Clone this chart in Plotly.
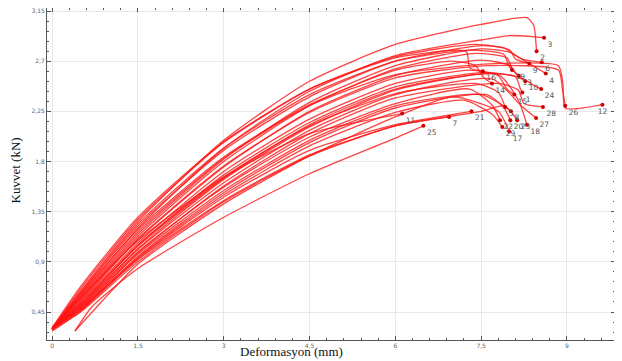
import plotly.graph_objects as go

# ---- data ----
curve_labels = ["2", "3", "6", "9", "4", "19", "13", "16", "10", "24",
                "14", "15", "1", "28", "12", "26", "5", "21", "11", "7",
                "25", "8", "22", "20", "23", "27", "18", "29", "17"]

curve_x = [
    [0, 0.5, 1.5, 3, 4.5, 6, 7.5, 8.3, 8.42, 8.46, 8.47],            # 2
    [0, 0.5, 1.5, 3, 4.5, 6, 7.5, 8.0, 8.4, 8.6],                     # 3
    [0, 0.5, 1.5, 3, 4.5, 6, 7.5, 7.9, 8.2, 8.56],                    # 6
    [0, 0.5, 1.5, 3, 4.5, 6, 7.4, 8.0, 8.1, 8.34],                    # 9
    [0, 0.5, 1.5, 3, 4.5, 6, 7.5, 8.0, 8.4, 8.63],                    # 4
    [0, 0.5, 1.5, 3, 4.5, 6, 7.3, 7.9, 7.98, 8.04],                   # 19
    [0, 0.5, 1.5, 3, 4.5, 6, 7.4, 7.95, 8.05, 8.16],                  # 13
    [0, 0.5, 1.5, 3, 4.5, 6, 7.1, 7.25, 7.3, 7.53],                   # 16
    [0, 0.5, 1.5, 3, 4.5, 6, 7.5, 8.0, 8.15, 8.27],                   # 10
    [0, 0.5, 1.5, 3, 4.5, 6, 7.6, 8.2, 8.4, 8.55],                    # 24
    [0, 0.5, 1.5, 3, 4.5, 6, 7.0, 7.4, 7.55, 7.69],                   # 14
    [0, 0.5, 1.5, 3, 4.5, 6, 7.3, 7.8, 7.95, 8.08],                   # 15
    [0, 0.5, 1.5, 3, 4.5, 6, 7.6, 8.1, 8.18, 8.22],                   # 1
    [0, 0.5, 1.5, 3, 4.5, 6, 7.8, 8.15, 8.25, 8.58],                  # 28
    [0, 0.5, 1.5, 3, 4.5, 6, 7.8, 8.85, 8.93, 8.97, 9.62],            # 12
    [0, 0.5, 1.5, 3, 4.5, 6, 7.6, 8.85, 8.92, 8.97],                  # 26
    [0, 0.5, 1.5, 3, 4.5, 6, 7.4, 7.8, 7.92],                         # 5
    [0, 0.5, 1.5, 3, 4.5, 6, 7.33],                                   # 21
    [0, 0.5, 1.5, 3, 4.5, 6.12],                                      # 11
    [0, 0.5, 1.5, 3, 4.5, 6, 6.94],                                   # 7
    [0.4, 0.7, 1.5, 3, 4.5, 6, 6.49],                                 # 25
    [0, 0.5, 1.5, 3, 4.5, 6, 7.5, 7.9, 8.02],                         # 8
    [0, 0.5, 1.5, 3, 4.5, 6, 7.3, 7.7, 7.83],                         # 22
    [0, 0.5, 1.5, 3, 4.5, 6, 7.6, 7.9, 8.01],                         # 20
    [0, 0.5, 1.5, 3, 4.5, 6, 7.5, 8.0, 8.13],                         # 23
    [0, 0.5, 1.5, 3, 4.5, 6, 7.7, 8.2, 8.46],                         # 27
    [0, 0.5, 1.5, 3, 4.5, 6, 7.8, 8.15, 8.30],                        # 18
    [0, 0.5, 1.5, 3, 4.5, 6, 7.2, 7.7, 7.87],                         # 29
    [0.4, 0.7, 1.5, 3, 4.5, 6, 7.0, 7.8, 7.99],                       # 17
]

curve_y = [
    [0.30, 0.64, 1.26, 1.99, 2.52, 2.85, 3.03, 3.09, 3.02, 2.85, 2.79],  # 2
    [0.30, 0.60, 1.20, 1.92, 2.43, 2.75, 2.89, 2.93, 2.92, 2.91],        # 3
    [0.29, 0.62, 1.22, 1.90, 2.38, 2.70, 2.84, 2.82, 2.72, 2.69],        # 6
    [0.30, 0.66, 1.28, 1.97, 2.45, 2.74, 2.85, 2.80, 2.72, 2.68],        # 9
    [0.31, 0.58, 1.15, 1.82, 2.33, 2.66, 2.81, 2.78, 2.66, 2.59],        # 4
    [0.30, 0.63, 1.24, 1.92, 2.40, 2.70, 2.80, 2.76, 2.66, 2.62],        # 19
    [0.30, 0.57, 1.13, 1.80, 2.30, 2.63, 2.77, 2.73, 2.62, 2.57],        # 13
    [0.31, 0.68, 1.30, 1.98, 2.45, 2.73, 2.80, 2.78, 2.64, 2.61],        # 16
    [0.29, 0.55, 1.10, 1.75, 2.25, 2.57, 2.71, 2.66, 2.56, 2.52],        # 10
    [0.30, 0.52, 1.05, 1.68, 2.15, 2.47, 2.60, 2.55, 2.49, 2.45],        # 24
    [0.30, 0.61, 1.19, 1.84, 2.31, 2.62, 2.70, 2.66, 2.55, 2.50],        # 14
    [0.29, 0.54, 1.07, 1.71, 2.18, 2.50, 2.62, 2.57, 2.45, 2.40],        # 15
    [0.31, 0.50, 1.02, 1.64, 2.11, 2.44, 2.59, 2.56, 2.46, 2.42],        # 1
    [0.30, 0.48, 0.98, 1.58, 2.05, 2.37, 2.50, 2.44, 2.32, 2.29],        # 28
    [0.30, 0.59, 1.17, 1.83, 2.30, 2.58, 2.68, 2.66, 2.50, 2.28, 2.31],  # 12
    [0.30, 0.56, 1.11, 1.76, 2.24, 2.55, 2.66, 2.62, 2.45, 2.30],        # 26
    [0.31, 0.53, 1.05, 1.66, 2.12, 2.41, 2.50, 2.42, 2.29],              # 5
    [0.28, 0.46, 0.93, 1.48, 1.90, 2.13, 2.25],                          # 21
    [0.30, 0.58, 1.09, 1.66, 2.05, 2.23],                                # 11
    [0.30, 0.47, 0.92, 1.45, 1.86, 2.12, 2.20],                          # 7
    [0.28, 0.50, 0.84, 1.30, 1.69, 2.01, 2.12],                          # 25
    [0.29, 0.45, 0.90, 1.44, 1.85, 2.12, 2.25, 2.30, 2.25],              # 8
    [0.30, 0.50, 0.99, 1.57, 2.02, 2.32, 2.45, 2.30, 2.17],              # 22
    [0.30, 0.47, 0.95, 1.52, 1.97, 2.28, 2.40, 2.28, 2.17],              # 20
    [0.30, 0.49, 0.97, 1.54, 1.99, 2.30, 2.40, 2.26, 2.17],              # 23
    [0.29, 0.51, 1.01, 1.61, 2.08, 2.40, 2.54, 2.30, 2.19],              # 27
    [0.31, 0.52, 1.04, 1.65, 2.13, 2.45, 2.58, 2.35, 2.13],              # 18
    [0.30, 0.48, 0.94, 1.50, 1.94, 2.24, 2.35, 2.22, 2.11],              # 29
    [0.28, 0.45, 0.88, 1.42, 1.85, 2.20, 2.38, 2.25, 2.07],              # 17
]

x_tickvals = [0, 1.5, 3, 4.5, 6, 7.5, 9]
x_ticktext = ["0", "1,5", "3", "4,5", "6", "7,5", "9"]
y_tickvals = [0.45, 0.9, 1.35, 1.8, 2.25, 2.7, 3.15]
y_ticktext = ["0,45", "0,9", "1,35", "1,8", "2,25", "2,7", "3,15"]

# ---- figure ----
fig = go.Figure()
for xs, ys in zip(curve_x, curve_y):
    fig.add_trace(go.Scatter(
        x=xs, y=ys, mode="lines",
        line=dict(color="rgba(255,20,20,0.8)", width=1.3,
                  shape="spline", smoothing=0.6),
        hoverinfo="skip", showlegend=False))

end_x = [xs[-1] for xs in curve_x]
end_y = [ys[-1] for ys in curve_y]
label_pos = ["bottom center" if lab == "12" else "bottom right"
             for lab in curve_labels]
fig.add_trace(go.Scatter(
    x=end_x, y=end_y, mode="markers+text", cliponaxis=False,
    marker=dict(color="#d00000", size=4),
    text=curve_labels, textposition=label_pos,
    textfont=dict(family="DejaVu Sans", size=7.5, color="#555555"),
    showlegend=False, hoverinfo="skip"))

axis_common = dict(
    showline=True, linecolor="#555555", linewidth=1, mirror="ticks",
    ticks="inside", ticklen=4, tickcolor="#555555",
    showgrid=True, gridcolor="#e8e8e8", gridwidth=1, zeroline=False,
    ticklabeloverflow="allow",
    tickfont=dict(family="DejaVu Sans", size=6, color="#666666"),
)

fig.update_xaxes(range=[-0.09, 9.84], tickmode="array",
                 tickvals=x_tickvals, ticktext=x_ticktext,
                 minor=dict(ticks="inside", ticklen=2, tickcolor="#555555",
                            dtick=0.3, showgrid=False),
                 **axis_common)
fig.update_yaxes(range=[0.199, 3.177], tickmode="array",
                 tickvals=y_tickvals, ticktext=y_ticktext,
                 minor=dict(ticks="inside", ticklen=2, tickcolor="#555555",
                            dtick=0.09, showgrid=False),
                 **axis_common)

# the page body adds an 8px offset; the figure is sized to compensate
fig.update_layout(
    width=614, height=353,
    margin=dict(l=39, r=7, t=0, b=21),
    paper_bgcolor="white", plot_bgcolor="white",
    annotations=[
        dict(text="Deformasyon (mm)", xref="paper", yref="paper",
             x=0.431, y=-0.034, xanchor="center", yanchor="middle",
             showarrow=False,
             font=dict(family="Liberation Serif", size=13, color="#111111")),
        dict(text="Kuvvet (kN)", xref="paper", yref="paper",
             x=-0.055, y=0.51, xanchor="center", yanchor="middle",
             textangle=-90, showarrow=False,
             font=dict(family="Liberation Serif", size=13, color="#111111")),
    ],
)

fig.write_html("out.html")
